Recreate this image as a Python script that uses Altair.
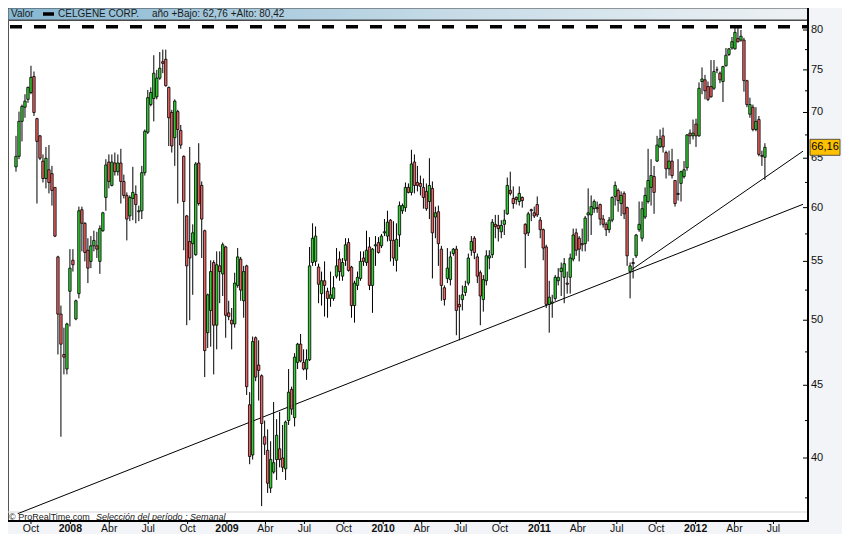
import altair as alt
import pandas as pd

# ---------------- data (weekly OHLC) ----------------
opens = [64.1, 65.2, 69.0, 70.6, 71.5, 72.3, 74.2, 69.3, 67.4, 64.7, 62.9, 63.8, 63.4, 62.0, 55.4, 50.5, 47.3, 46.2, 52.4, 55.1,
         50.1, 52.2, 59.8, 58.5, 56.0, 55.0, 56.4, 56.4, 55.0, 57.8, 61.0, 64.6, 62.2, 64.5, 63.6, 64.5, 62.6, 61.2, 59.2, 60.9,
         61.3, 59.6, 59.7, 63.5, 67.8, 70.9, 71.6, 71.8, 74.0, 76.0, 76.3, 72.9, 70.0, 67.2, 70.1, 68.0, 65.2, 59.2, 56.8, 56.6,
         55.6, 64.5, 62.2, 57.8, 49.0, 50.8, 54.9, 49.6, 54.6, 53.9, 56.3, 50.6, 50.0, 49.7, 52.9, 55.2, 51.6, 54.6, 43.6, 40.2,
         48.6, 46.5, 45.7, 41.4, 40.5, 38.1, 39.1, 39.9, 40.6, 40.0, 39.3, 42.5, 44.7, 42.7, 46.7, 48.1, 46.7, 46.2, 46.9, 54.9,
         55.0, 54.5, 52.2, 53.3, 52.4, 51.8, 51.8, 53.7, 55.2, 53.7, 55.1, 56.7, 54.5, 51.2, 52.9, 53.5, 55.3, 54.9, 56.3, 52.9,
         56.4, 56.7, 56.4, 57.6, 57.3, 58.8, 56.9, 55.1, 57.4, 59.7, 60.0, 62.0, 61.5, 64.6, 62.5, 62.4, 62.0, 61.6, 60.6, 61.9,
         59.1, 59.6, 56.1, 52.7, 53.5, 53.4, 55.7, 56.1, 51.3, 51.7, 52.3, 53.1, 56.0, 57.1, 55.4, 54.0, 51.7, 53.3, 55.3, 55.6,
         58.4, 58.3, 57.7, 58.4, 59.4, 61.7, 60.9, 61.0, 60.6, 61.0, 58.4, 57.6, 59.8, 59.5, 60.3, 58.8, 57.9, 56.3, 51.3, 51.4,
         51.8, 53.3, 54.1, 53.6, 53.1, 53.6, 55.2, 57.6, 57.1, 56.6, 56.6, 59.3, 59.3, 59.9, 60.0, 60.3, 58.9, 58.4, 57.9, 58.8,
         61.1, 61.7, 60.4, 61.4, 60.0, 54.1, 54.9, 55.5, 57.9, 57.1, 59.1, 60.6, 62.0, 63.1, 64.7, 66.2, 67.4, 65.6, 63.9, 64.7,
         62.7, 61.4, 62.4, 63.1, 64.0, 67.7, 67.4, 68.7, 67.4, 73.6, 73.8, 73.0, 73.0, 72.8, 75.0, 74.6, 73.6, 75.5, 76.9, 77.7,
         77.6, 78.9, 78.7, 78.7, 73.7, 69.8, 70.6, 68.1, 69.2, 65.3, 65.1]
highs = [67.4, 70.1, 70.9, 72.1, 73.0, 75.5, 74.8, 69.4, 67.5, 65.4, 66.2, 66.4, 64.2, 62.0, 55.5, 51.2, 49.4, 49.8, 56.1, 56.1,
         51.7, 60.1, 60.1, 58.6, 57.1, 57.3, 57.8, 57.7, 58.3, 59.6, 64.9, 65.4, 65.4, 65.6, 65.4, 66.0, 63.3, 61.5, 61.2, 64.1,
         62.2, 60.2, 64.2, 68.1, 72.6, 72.9, 76.8, 75.0, 77.2, 77.5, 77.5, 73.0, 70.3, 71.5, 70.3, 68.6, 65.3, 59.3, 66.2, 58.4,
         64.6, 66.6, 62.6, 57.9, 52.2, 55.1, 55.1, 55.9, 55.9, 56.7, 56.4, 51.6, 51.0, 54.0, 56.2, 55.4, 54.6, 54.7, 44.5, 48.7,
         48.7, 48.4, 45.8, 42.5, 41.9, 41.1, 43.8, 42.6, 43.1, 42.2, 42.5, 46.2, 44.9, 47.4, 48.2, 48.9, 47.7, 47.7, 56.3, 58.5,
         58.2, 54.8, 54.1, 55.0, 52.7, 54.1, 53.7, 56.2, 55.9, 55.3, 57.1, 57.1, 54.6, 53.3, 54.1, 55.9, 55.9, 57.8, 57.2, 56.2,
         57.3, 57.2, 57.5, 58.9, 59.7, 58.9, 58.7, 58.5, 60.6, 60.4, 62.5, 62.4, 65.9, 65.4, 64.2, 63.2, 62.9, 62.4, 65.0, 62.6,
         60.1, 60.2, 56.4, 52.9, 56.2, 55.9, 56.2, 56.4, 52.1, 52.9, 53.3, 55.7, 57.3, 57.3, 55.7, 54.2, 53.8, 56.0, 56.0, 58.9,
         59.3, 59.3, 58.8, 59.8, 63.0, 63.6, 62.1, 61.1, 62.1, 61.1, 58.5, 59.6, 59.9, 60.1, 61.1, 59.1, 58.0, 56.5, 53.3, 52.1,
         53.8, 54.4, 54.9, 55.3, 54.1, 55.7, 58.0, 58.0, 57.3, 58.0, 59.2, 61.9, 61.2, 60.8, 60.6, 60.4, 59.3, 58.6, 59.1, 61.1,
         62.6, 61.9, 61.6, 61.6, 60.1, 54.9, 55.3, 57.5, 60.6, 60.6, 62.0, 66.0, 64.9, 64.2, 67.4, 68.1, 68.3, 65.8, 65.8, 66.0,
         62.7, 64.9, 63.7, 64.7, 67.6, 68.1, 69.2, 69.3, 73.5, 75.3, 74.4, 73.6, 76.2, 76.2, 75.4, 74.8, 75.5, 77.7, 77.7, 79.1,
         80.42, 80.4, 80.0, 79.0, 73.8, 71.7, 70.9, 70.6, 69.6, 65.8, 66.6]
lows = [63.6, 64.9, 66.8, 69.4, 71.1, 72.1, 69.6, 60.4, 64.8, 62.5, 61.9, 61.4, 60.2, 57.2, 47.3, 41.4, 45.8, 45.8, 49.5, 54.1,
        50.0, 51.8, 55.9, 55.0, 53.1, 54.4, 55.9, 55.3, 53.9, 57.7, 59.7, 61.9, 62.1, 63.2, 63.2, 60.4, 60.9, 56.9, 58.7, 58.8,
        58.5, 58.7, 58.9, 63.2, 67.6, 70.7, 69.0, 71.5, 73.8, 74.6, 73.0, 66.3, 65.6, 64.2, 60.4, 66.0, 56.0, 49.6, 50.0, 52.1,
        55.5, 60.2, 55.3, 45.6, 47.8, 47.9, 45.8, 47.7, 51.4, 52.0, 48.6, 50.0, 47.7, 49.4, 52.7, 51.6, 50.2, 44.3, 39.6, 39.9,
        45.3, 43.9, 37.0, 40.2, 37.8, 37.8, 39.0, 38.6, 39.4, 39.1, 38.6, 42.2, 42.9, 42.1, 46.2, 46.7, 46.1, 45.4, 46.8, 54.6,
        54.6, 51.4, 51.2, 50.3, 50.2, 51.1, 51.6, 53.5, 53.3, 53.3, 54.6, 54.1, 50.2, 49.8, 52.5, 53.3, 54.6, 54.6, 52.5, 50.6,
        54.6, 55.7, 56.2, 57.3, 56.8, 55.0, 54.6, 54.1, 56.3, 59.4, 59.6, 61.4, 61.2, 61.4, 61.6, 61.2, 59.9, 59.7, 58.9, 53.5,
        57.1, 54.6, 51.6, 51.2, 53.1, 52.9, 55.5, 48.8, 48.4, 50.8, 52.0, 52.9, 55.5, 55.2, 53.1, 49.6, 50.7, 52.9, 54.3, 55.3,
        57.1, 56.8, 57.1, 57.4, 59.3, 61.2, 59.9, 60.3, 60.2, 60.0, 54.4, 57.3, 58.7, 59.0, 59.1, 57.1, 55.1, 51.0, 49.0, 50.2,
        51.6, 52.9, 52.0, 51.4, 52.2, 52.2, 55.0, 55.5, 55.0, 55.9, 55.9, 56.8, 57.4, 59.5, 59.5, 58.3, 58.1, 57.3, 57.6, 58.6,
        60.2, 59.6, 59.2, 58.9, 54.6, 51.8, 53.5, 55.3, 57.7, 56.8, 58.9, 60.4, 60.2, 59.4, 64.6, 66.1, 65.6, 62.9, 63.2, 62.9,
        60.1, 60.7, 60.6, 62.9, 63.7, 66.5, 67.0, 66.2, 67.3, 72.1, 71.5, 71.3, 71.7, 72.6, 74.6, 73.4, 71.2, 75.4, 76.7, 77.5,
        77.5, 78.4, 78.5, 72.4, 70.6, 69.4, 67.9, 67.9, 65.2, 64.2, 62.76]
closes = [65.2, 69.0, 70.7, 71.3, 72.9, 74.1, 70.0, 66.8, 65.0, 62.9, 65.0, 62.5, 61.7, 57.3, 50.5, 48.1, 47.1, 49.7, 54.4, 54.7,
          51.6, 59.7, 58.5, 55.8, 54.4, 56.4, 56.9, 56.1, 58.0, 59.5, 64.3, 62.6, 64.6, 63.6, 64.5, 62.6, 61.2, 58.9, 61.0, 61.5,
          60.3, 59.7, 63.5, 67.9, 71.7, 72.3, 74.6, 74.0, 75.2, 75.8, 73.1, 69.4, 66.3, 71.3, 68.1, 66.4, 60.6, 54.6, 55.3, 57.6,
          64.4, 60.4, 58.9, 47.6, 52.1, 54.1, 49.6, 54.7, 54.1, 56.5, 50.4, 50.3, 49.7, 53.1, 55.4, 52.5, 54.1, 44.9, 40.1, 48.3,
          45.6, 46.1, 42.3, 40.9, 38.4, 39.9, 39.7, 41.5, 39.9, 39.4, 42.4, 44.5, 43.3, 47.1, 48.1, 46.8, 46.2, 46.9, 54.6, 57.1,
          57.3, 53.0, 53.3, 52.9, 51.8, 52.1, 52.7, 54.6, 54.1, 54.9, 56.5, 54.2, 51.2, 53.1, 53.6, 55.0, 55.0, 56.0, 52.9, 56.1,
          56.5, 55.8, 57.3, 57.7, 58.6, 56.9, 55.3, 57.0, 60.2, 60.2, 62.0, 61.5, 64.4, 62.2, 62.2, 62.1, 61.0, 59.9, 62.2, 57.6,
          59.5, 56.6, 52.9, 51.7, 54.4, 55.4, 56.1, 50.8, 51.1, 52.1, 52.8, 55.3, 56.8, 55.8, 53.7, 52.0, 53.4, 55.5, 55.5, 58.6,
          58.2, 58.0, 58.3, 58.8, 62.2, 61.4, 60.4, 60.8, 61.4, 60.7, 57.5, 59.4, 59.7, 59.2, 59.3, 57.9, 56.2, 51.3, 51.9, 51.5,
          53.6, 53.6, 54.4, 54.8, 53.0, 55.3, 57.4, 56.0, 56.1, 56.5, 59.0, 59.5, 60.1, 60.6, 59.9, 58.9, 58.4, 57.9, 58.8, 61.0,
          62.2, 60.7, 61.2, 59.4, 55.5, 54.6, 54.8, 57.4, 58.4, 59.9, 61.2, 62.7, 63.2, 61.5, 66.4, 67.1, 66.2, 63.9, 64.7, 63.2,
          60.4, 61.3, 63.6, 63.8, 67.5, 67.4, 67.7, 67.4, 72.8, 73.9, 72.5, 71.5, 71.8, 74.8, 75.0, 73.8, 75.4, 76.8, 77.6, 78.5,
          79.7, 78.5, 79.2, 73.7, 70.9, 70.9, 68.1, 69.0, 65.4, 65.2, 66.16]

first_week = "2007-08-27"

month_tick_dates = ["2007-10-01", "2008-04-01", "2008-07-01", "2008-10-01", "2009-04-01", "2009-07-01",
                    "2009-10-01", "2010-04-01", "2010-07-01", "2010-10-01", "2011-04-01", "2011-07-01",
                    "2011-10-01", "2012-04-01", "2012-07-01"]
month_tick_labels = ["Oct", "Abr", "Jul", "Oct", "Abr", "Jul", "Oct", "Abr", "Jul", "Oct", "Abr", "Jul",
                     "Oct", "Abr", "Jul"]
year_tick_dates = ["2008-01-01", "2009-01-01", "2010-01-01", "2011-01-01", "2012-01-01"]
year_tick_labels = ["2008", "2009", "2010", "2011", "2012"]

price_major = [40, 45, 50, 55, 60, 65, 70, 75, 80]
price_labels = ["40", "45", "50", "55", "60", "65", "70", "75", "80"]
price_minor = [37.5, 42.5, 47.5, 52.5, 57.5, 62.5, 67.5, 72.5, 77.5]

trend_names = ["long", "long", "short", "short"]
trend_dates = ["2007-08-31", "2012-09-08", "2011-08-06", "2012-09-08"]
trend_prices = [36.55, 60.33, 54.30, 65.75]

year_high = 80.42
last_close = 66.16
last_close_label = "66,16"

header_title = "Valor"
header_name = "CELGENE CORP."
header_range = "año +Bajo: 62,76 +Alto: 80,42"
footer_left = "\u00a9 ProRealTime.com"
footer_right = "Selección del período : Semanal"

# ---------------- layout ----------------
W, H = 800, 501
TOP, BOTTOM, RIGHT = 12, 13, 34
FONT = "Liberation Sans"
GREEN, RED = "#33d033", "#ec6262"


def ts(s):
    return s + "T00:00:00"


candles = pd.DataFrame({
    "date": pd.date_range(first_week, periods=len(opens), freq="7D"),
    "open": opens, "high": highs, "low": lows, "close": closes,
})
candles["dir"] = ["up" if c >= o else "down" for o, c in zip(opens, closes)]

xscale = alt.Scale(domain=[alt.DateTime(year=2007, month=8, date=20),
                           alt.DateTime(year=2012, month=9, date=8)])
yscale = alt.Scale(type="log", domain=[36.12, 81.31], nice=False)

one = pd.DataFrame({"k": [0]})


def fixed_text(txt, x, y, size=10.5, style="normal", weight="normal"):
    return alt.Chart(one).mark_text(
        align="left", baseline="middle", font=FONT, fontSize=size, fontStyle=style,
        fontWeight=weight, color="#1a1a1a"
    ).encode(x=alt.value(x), y=alt.value(y), text=alt.value(txt))


# header
header_bg = alt.Chart(one).mark_rect(
    fill=alt.Gradient(gradient="linear", x1=0, x2=1, y1=0, y2=0,
                      stops=[alt.GradientStop(color="#86b7d2", offset=0),
                             alt.GradientStop(color="#c6dbe7", offset=0.55),
                             alt.GradientStop(color="#eef2f5", offset=1)]),
    stroke="#444", strokeWidth=1
).encode(x=alt.value(0), x2=alt.value(W), y=alt.value(-TOP), y2=alt.value(0))

swatch = alt.Chart(one).mark_rule(color="black", strokeWidth=3.5).encode(
    x=alt.value(35), x2=alt.value(46), y=alt.value(-TOP / 2))

# frame: right and bottom axis lines
right_line = alt.Chart(one).mark_rule(color="black", strokeWidth=2).encode(
    x=alt.value(W), y=alt.value(-TOP), y2=alt.value(H + 1))
bottom_line = alt.Chart(one).mark_rule(color="black", strokeWidth=2).encode(
    x=alt.value(0), x2=alt.value(W + 1), y=alt.value(H))

# footer
footer_line = alt.Chart(one).mark_rule(color="#d6d6d6", strokeWidth=1).encode(
    x=alt.value(0), x2=alt.value(W), y=alt.value(H - 9))

# trend lines
trend_df = pd.DataFrame({"line": trend_names, "date": [ts(d) for d in trend_dates], "price": trend_prices})
trend = alt.Chart(trend_df).mark_line(color="black", strokeWidth=1).encode(
    x=alt.X("date:T", axis=None), y=alt.Y("price:Q", axis=None), detail="line:N")

# dashed year-high line
high_df = pd.DataFrame({"price": [year_high]})
high_line = alt.Chart(high_df).mark_rule(color="black", strokeWidth=3.5, strokeDash=[12, 12]).encode(
    x=alt.value(2), x2=alt.value(W), y=alt.Y("price:Q", axis=None))

# candles
wicks = alt.Chart(candles).mark_rule(color="black", strokeWidth=1).encode(
    x=alt.X("date:T", scale=xscale, axis=None),
    y=alt.Y("low:Q", scale=yscale, axis=None),
    y2="high:Q")
bodies = alt.Chart(candles).mark_bar(size=2.4, stroke="black", strokeWidth=0.8).encode(
    x=alt.X("date:T", axis=None),
    y=alt.Y("open:Q", axis=None),
    y2="close:Q",
    color=alt.Color("dir:N", scale=alt.Scale(domain=["up", "down"], range=[GREEN, RED]), legend=None))

# right price axis: inward ticks + labels
major_df = pd.DataFrame({"price": price_major, "label": price_labels})
minor_df = pd.DataFrame({"price": price_minor})
major_ticks = alt.Chart(major_df).mark_rule(color="black", strokeWidth=1).encode(
    x=alt.value(W - 5), x2=alt.value(W), y=alt.Y("price:Q", axis=None))
minor_ticks = alt.Chart(minor_df).mark_rule(color="black", strokeWidth=1).encode(
    x=alt.value(W - 3), x2=alt.value(W), y=alt.Y("price:Q", axis=None))
price_lbl = alt.Chart(major_df).mark_text(
    align="left", baseline="middle", font=FONT, fontSize=11, color="#111"
).encode(x=alt.value(W + 3), y=alt.Y("price:Q", axis=None), text="label:N")

# last price box
last_df = pd.DataFrame({"price": [last_close], "label": [last_close_label]})
last_box = alt.Chart(last_df).mark_point(
    shape="M-1,-0.533L1,-0.533L1,0.533L-1,0.533Z", size=900, filled=True,
    fill="#ffc000", stroke="#333", strokeWidth=0.8, opacity=1
).encode(x=alt.value(W + 17), y=alt.Y("price:Q", axis=None))
last_txt = alt.Chart(last_df).mark_text(font=FONT, fontSize=11, color="black", baseline="middle",
                                        align="center").encode(
    x=alt.value(W + 17), y=alt.Y("price:Q", axis=None), text="label:N")

# x ticks and labels
month_df = pd.DataFrame({"date": [ts(d) for d in month_tick_dates], "label": month_tick_labels})
year_df = pd.DataFrame({"date": [ts(d) for d in year_tick_dates], "label": year_tick_labels})
month_ticks = alt.Chart(month_df).mark_rule(color="black", strokeWidth=1).encode(
    x=alt.X("date:T", axis=None), y=alt.value(H), y2=alt.value(H + 3))
year_ticks = alt.Chart(year_df).mark_rule(color="black", strokeWidth=1).encode(
    x=alt.X("date:T", axis=None), y=alt.value(H), y2=alt.value(H + 3))
month_lbl = alt.Chart(month_df).mark_text(font=FONT, fontSize=10.5, color="#111", baseline="middle").encode(
    x=alt.X("date:T", axis=None), y=alt.value(H + 7.5), text="label:N")
year_lbl = alt.Chart(year_df).mark_text(font=FONT, fontSize=10.5, fontWeight="bold", color="#111",
                                        baseline="middle").encode(
    x=alt.X("date:T", axis=None), y=alt.value(H + 7.5), text="label:N")

chart = alt.layer(
    wicks, header_bg, swatch,
    fixed_text(header_title, 3, -TOP / 2, size=10), fixed_text(header_name, 50, -TOP / 2, size=10),
    fixed_text(header_range, 144, -TOP / 2, size=10),
    footer_line, fixed_text(footer_left, 1, H - 4, size=9),
    fixed_text(footer_right, 88, H - 4, size=9, style="italic"),
    trend, high_line, bodies, right_line, bottom_line, major_ticks, minor_ticks, price_lbl,
    last_box, last_txt, month_ticks, year_ticks, month_lbl, year_lbl
).properties(
    width=W, height=H,
    padding={"left": 0, "top": TOP, "right": RIGHT, "bottom": BOTTOM},
    autosize=alt.AutoSizeParams(type="none"),
).configure(background="#f2f4f7").configure_view(fill="white", stroke="#555", strokeWidth=1)

chart.save("out.html", embed_options={"renderer": "svg", "actions": False})
